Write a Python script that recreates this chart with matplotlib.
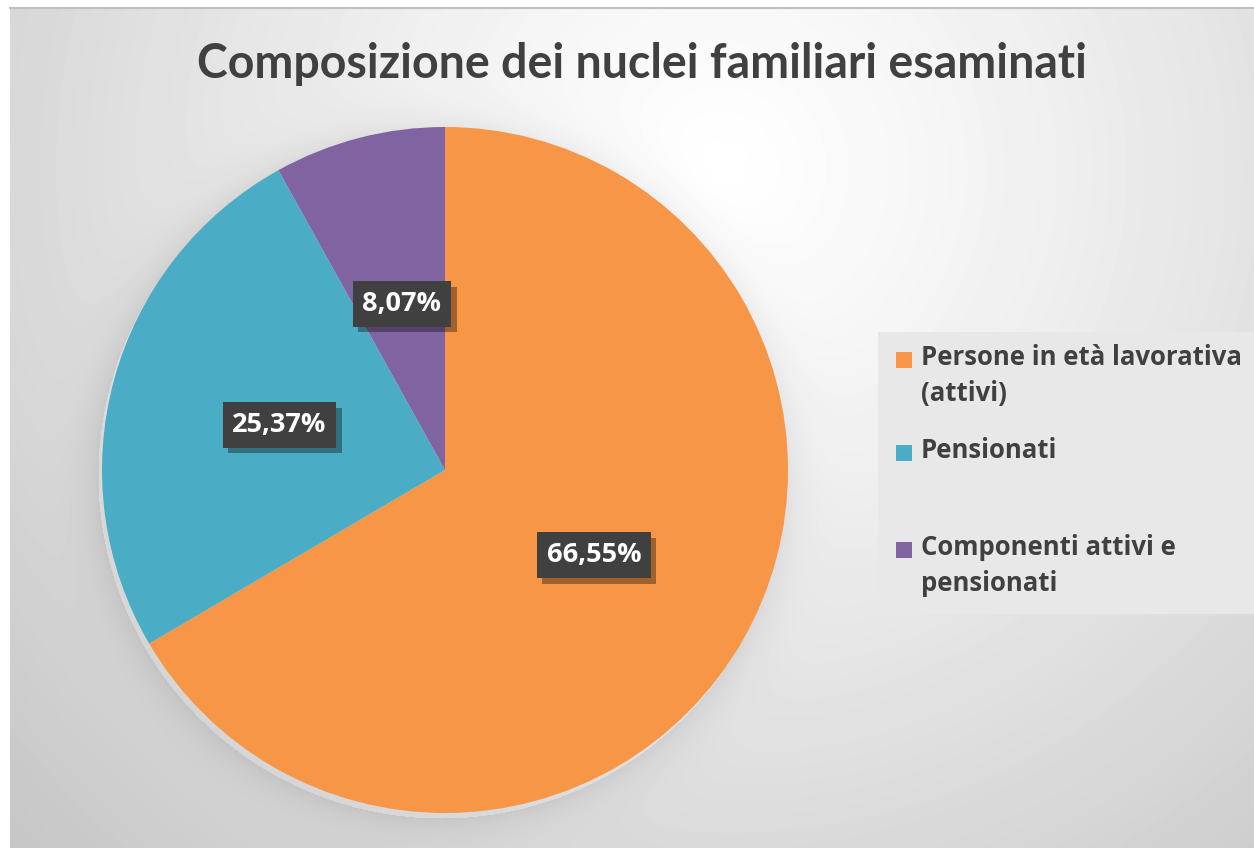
import numpy as np
import matplotlib
matplotlib.use("Agg")
import matplotlib.pyplot as plt
from matplotlib.patches import Rectangle
import matplotlib.patheffects as pe

title = "Composizione dei nuclei familiari esaminati"
categories = ["Persone in età lavorativa\n(attivi)", "Pensionati", "Componenti attivi e\npensionati"]
values = [66.55, 25.37, 8.07]
colors = ["#F79646", "#4BACC6", "#8064A2"]
label_texts = ["66,55%", "25,37%", "8,07%"]

W, H = 1254, 848
fig = plt.figure(figsize=(W / 100, H / 100), dpi=100, facecolor="white")

# background gradient
bg = fig.add_axes([10 / W, 0, 1 - 10 / W, 1 - 8 / H])
bg.set_axis_off()
yy, xx = np.mgrid[8:H, 10:W]
d = np.hypot(xx - 720, yy - 170)
v = 1 - 0.23 * (d / 1000) ** 1.2
# soft shadow around pie
cx, cy, R = 445, 470, 343
dp = np.hypot(xx - cx + 4, yy - cy - 5) - R
shadow = np.where(dp > 0, 0.07 * np.exp(-dp / 18), 0)
v = np.clip(v - shadow, 0, 1)
bg.imshow(v, cmap="gray", vmin=0, vmax=1, aspect="auto", interpolation="bilinear")
fig.add_artist(plt.Line2D([10 / W, 1], [1 - 8 / H, 1 - 8 / H], transform=fig.transFigure,
                          color="#bfbfbf", lw=1.5))

# pie axes
ax = fig.add_axes([(cx - R) / W, (H - cy - R) / H, 2 * R / W, 2 * R / H])
ax.set_axis_off()
wedges, _ = ax.pie(values, colors=colors, startangle=90, counterclock=False, radius=1,
                   wedgeprops=dict(linewidth=0))
ax.set_xlim(-1, 1)
ax.set_ylim(-1, 1)

for w, lab in zip(wedges, label_texts):
    ang = np.deg2rad((w.theta1 + w.theta2) / 2)
    x, y = 0.5 * np.cos(ang), 0.5 * np.sin(ang)
    t = ax.text(x, y, lab, ha="center", va="center", fontsize=19.5, fontweight="bold",
                family="Open Sans", color="white",
                bbox=dict(boxstyle="square,pad=0.36", fc="#404040", ec="none"))
    t.get_bbox_patch().set_path_effects([
        pe.SimplePatchShadow(offset=(4, -4), shadow_rgbFace="black", alpha=0.35),
        pe.Normal()])

# title
fig.text(642 / W, 1 - 64 / H, title, ha="center", va="center", fontsize=33.5,
         fontweight="bold", family="Lato", color="#404040")

# legend
fig.add_artist(Rectangle((878 / W, 1 - 614 / H), (W - 878) / W, (614 - 332) / H,
                         transform=fig.transFigure, fc="#e8e8e8", ec="none"))
leg_y = [360, 453, 550]
for c, lab, ly in zip(colors, categories, leg_y):
    fig.add_artist(Rectangle((896 / W, 1 - (ly + 8) / H), 16 / W, 16 / H,
                             transform=fig.transFigure, fc=c, ec="none"))
    fig.text(921 / W, 1 - (ly - 16) / H, lab, ha="left", va="top", fontsize=18.5,
             fontweight="bold", family="Open Sans", color="#404040", linespacing=1.45)

fig.savefig("out.png", dpi=100, facecolor="white")
